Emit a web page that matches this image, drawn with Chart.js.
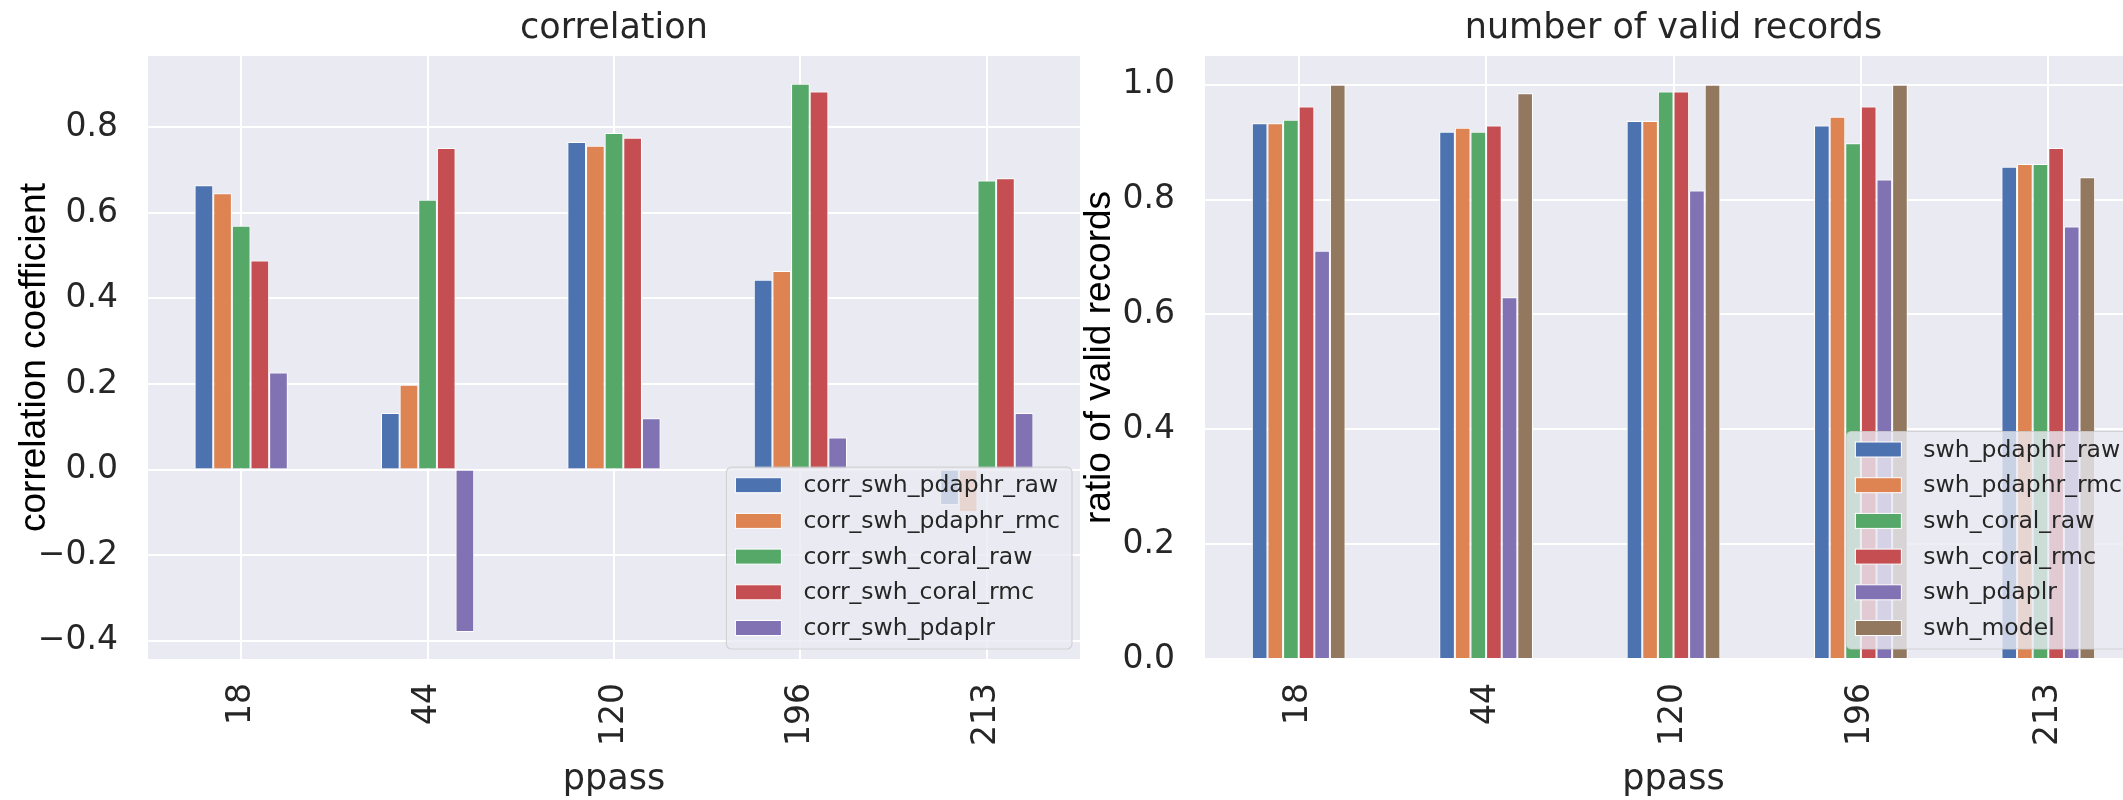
<!DOCTYPE html>
<html>
<head>
<meta charset="utf-8">
<script src="https://cdn.jsdelivr.net/npm/chart.js@4.4.1/dist/chart.umd.min.js"></script>
<style>
body { margin: 0; width: 2123px; height: 800px; overflow: hidden; background: #fff; position: relative; }
canvas { position: absolute; top: 0; }
#canvas1 { left: 0; }
#canvas2 { left: 1055px; }
</style>
</head>
<body>
<canvas id="canvas1" width="1090" height="800"></canvas>
<canvas id="canvas2" width="1097" height="800"></canvas>
<script>
// DATA
var passes = ['18', '44', '120', '196', '213']

var corr_swh_pdaphr_raw = [0.665, 0.132, 0.766, 0.444, -0.083]
var corr_swh_pdaphr_rmc = [0.646, 0.198, 0.757, 0.464, -0.100]
var corr_swh_coral_raw  = [0.570, 0.631, 0.787, 0.902, 0.676]
var corr_swh_coral_rmc  = [0.489, 0.752, 0.776, 0.884, 0.681]
var corr_swh_pdaplr     = [0.227, -0.380, 0.120, 0.075, 0.132]

var swh_pdaphr_raw = [0.933, 0.918, 0.937, 0.929, 0.857]
var swh_pdaphr_rmc = [0.933, 0.925, 0.937, 0.944, 0.862]
var swh_coral_raw  = [0.939, 0.918, 0.988, 0.898, 0.862]
var swh_coral_rmc  = [0.962, 0.929, 0.988, 0.962, 0.890]
var swh_pdaplr     = [0.711, 0.630, 0.816, 0.835, 0.753]
var swh_model      = [1.000, 0.985, 1.000, 1.000, 0.839]

var corrTicks  = [-0.4, -0.2, 0.0, 0.2, 0.4, 0.6, 0.8]
var ratioTicks = [0.0, 0.2, 0.4, 0.6, 0.8, 1.0]

// seaborn "deep" colours
var deep = ['#4C72B0', '#DD8452', '#55A868', '#C44E52', '#8172B3', '#937860']
var textColor = '#262626'
var tickFont = { family: 'DejaVu Sans', size: 33 }

function fmtTick(v)
{
    var s = Math.abs(v).toFixed(1)
    return v < -1e-9 ? '\u2212' + s : s
}

function makeSets(names, arrays)
{
    return names.map((n, i) => ({
        label: n,
        data: arrays[i],
        backgroundColor: deep[i],
        borderColor: '#ffffff',
        borderWidth: 1,
        categoryPercentage: 0.5,
        barPercentage: 1.0
    }))
}

// plot background + title centred on the plot area
const panelDeco = {
    id: 'panelDeco',
    beforeDraw(chart, args, opts) {
        const ctx = chart.ctx, a = chart.chartArea
        ctx.save()
        ctx.fillStyle = '#EAEAF2'
        ctx.fillRect(a.left, a.top, a.right - a.left, a.bottom - a.top)
        ctx.fillStyle = textColor
        ctx.font = '35px "DejaVu Sans"'
        ctx.textAlign = 'center'
        ctx.textBaseline = 'alphabetic'
        ctx.fillText(opts.title, (a.left + a.right) / 2, 38)
        ctx.restore()
    }
}

// matplotlib-like legend inside the axes, lower right
const insideLegend = {
    id: 'insideLegend',
    afterDatasetsDraw(chart) {
        const ctx = chart.ctx, a = chart.chartArea
        const sets = chart.data.datasets
        const fs = 23.5, rowH = 35.7
        ctx.save()
        ctx.font = fs + 'px "DejaVu Sans"'
        var textW = 0
        for (const d of sets) textW = Math.max(textW, ctx.measureText(d.label).width)
        const w = 77 + textW + 12
        const h = (sets.length - 1) * rowH + 39
        const right = a.right - 8, bottom = a.bottom - 10
        const left = right - w, top = bottom - h
        ctx.beginPath()
        ctx.roundRect(left, top, w, h, 5)
        ctx.fillStyle = 'rgba(234,234,242,0.8)'
        ctx.fill()
        ctx.strokeStyle = 'rgba(204,204,204,0.8)'
        ctx.lineWidth = 1.2
        ctx.stroke()
        ctx.textBaseline = 'middle'
        sets.forEach((d, i) => {
            const cy = top + 18 + i * rowH
            ctx.fillStyle = d.backgroundColor
            ctx.fillRect(left + 9, cy - 7.5, 46, 15)
            ctx.strokeStyle = '#ffffff'
            ctx.lineWidth = 1
            ctx.strokeRect(left + 9, cy - 7.5, 46, 15)
            ctx.fillStyle = textColor
            ctx.fillText(d.label, left + 77, cy + 1)
        })
        ctx.restore()
    }
}

function makeOptions(title, yLabel, ticksArr, yMin, yMax, yAxisWidth, yTitlePad)
{
    return {
        responsive: false,
        animation: false,
        layout: { padding: { top: 56, right: 10, left: 0, bottom: 0 } },
        plugins: {
            legend: { display: false },
            tooltip: { enabled: false },
            panelDeco: { title: title }
        },
        scales: {
            x: {
                grid: { color: '#ffffff', lineWidth: 2, offset: false, drawTicks: false },
                border: { display: false },
                ticks: { color: textColor, font: tickFont, minRotation: 90, maxRotation: 90, autoSkip: false, padding: 24 },
                title: { display: true, text: 'ppass', color: textColor, font: { family: 'DejaVu Sans', size: 35, lineHeight: 1 }, padding: { top: 0, bottom: 3 } },
                afterFit: s => { s.height = 141 }
            },
            y: {
                min: yMin,
                max: yMax,
                grid: { color: '#ffffff', lineWidth: 2, drawTicks: false },
                border: { display: false },
                ticks: { color: textColor, font: tickFont, padding: 30, callback: v => fmtTick(v) },
                afterBuildTicks: s => { s.ticks = ticksArr.map(v => ({ value: v })) },
                title: { display: true, text: yLabel, color: '#000000', font: { family: 'Liberation Sans', size: 37, lineHeight: 1 }, padding: { top: yTitlePad, bottom: 0 } },
                afterFit: s => { s.width = yAxisWidth }
            }
        }
    }
}

// CORRELATION CHART
const chart1 = document.getElementById('canvas1').getContext('2d')
const myChart1 = new Chart(chart1, {
    type: 'bar',
    data: {
        labels: passes,
        datasets: makeSets(
            ['corr_swh_pdaphr_raw', 'corr_swh_pdaphr_rmc', 'corr_swh_coral_raw', 'corr_swh_coral_rmc', 'corr_swh_pdaplr'],
            [corr_swh_pdaphr_raw, corr_swh_pdaphr_rmc, corr_swh_coral_raw, corr_swh_coral_rmc, corr_swh_pdaplr])
    },
    options: makeOptions('correlation', 'correlation coefficient', corrTicks, -0.443, 0.967, 148, 16),
    plugins: [panelDeco, insideLegend]
})

// VALID RECORDS CHART
const chart2 = document.getElementById('canvas2').getContext('2d')
const myChart2 = new Chart(chart2, {
    type: 'bar',
    data: {
        labels: passes,
        datasets: makeSets(
            ['swh_pdaphr_raw', 'swh_pdaphr_rmc', 'swh_coral_raw', 'swh_coral_rmc', 'swh_pdaplr', 'swh_model'],
            [swh_pdaphr_raw, swh_pdaphr_rmc, swh_coral_raw, swh_coral_rmc, swh_pdaplr, swh_model])
    },
    options: makeOptions('number of valid records', 'ratio of valid records', ratioTicks, 0, 1.05, 150, 26),
    plugins: [panelDeco, insideLegend]
})
</script>
</body>
</html>
